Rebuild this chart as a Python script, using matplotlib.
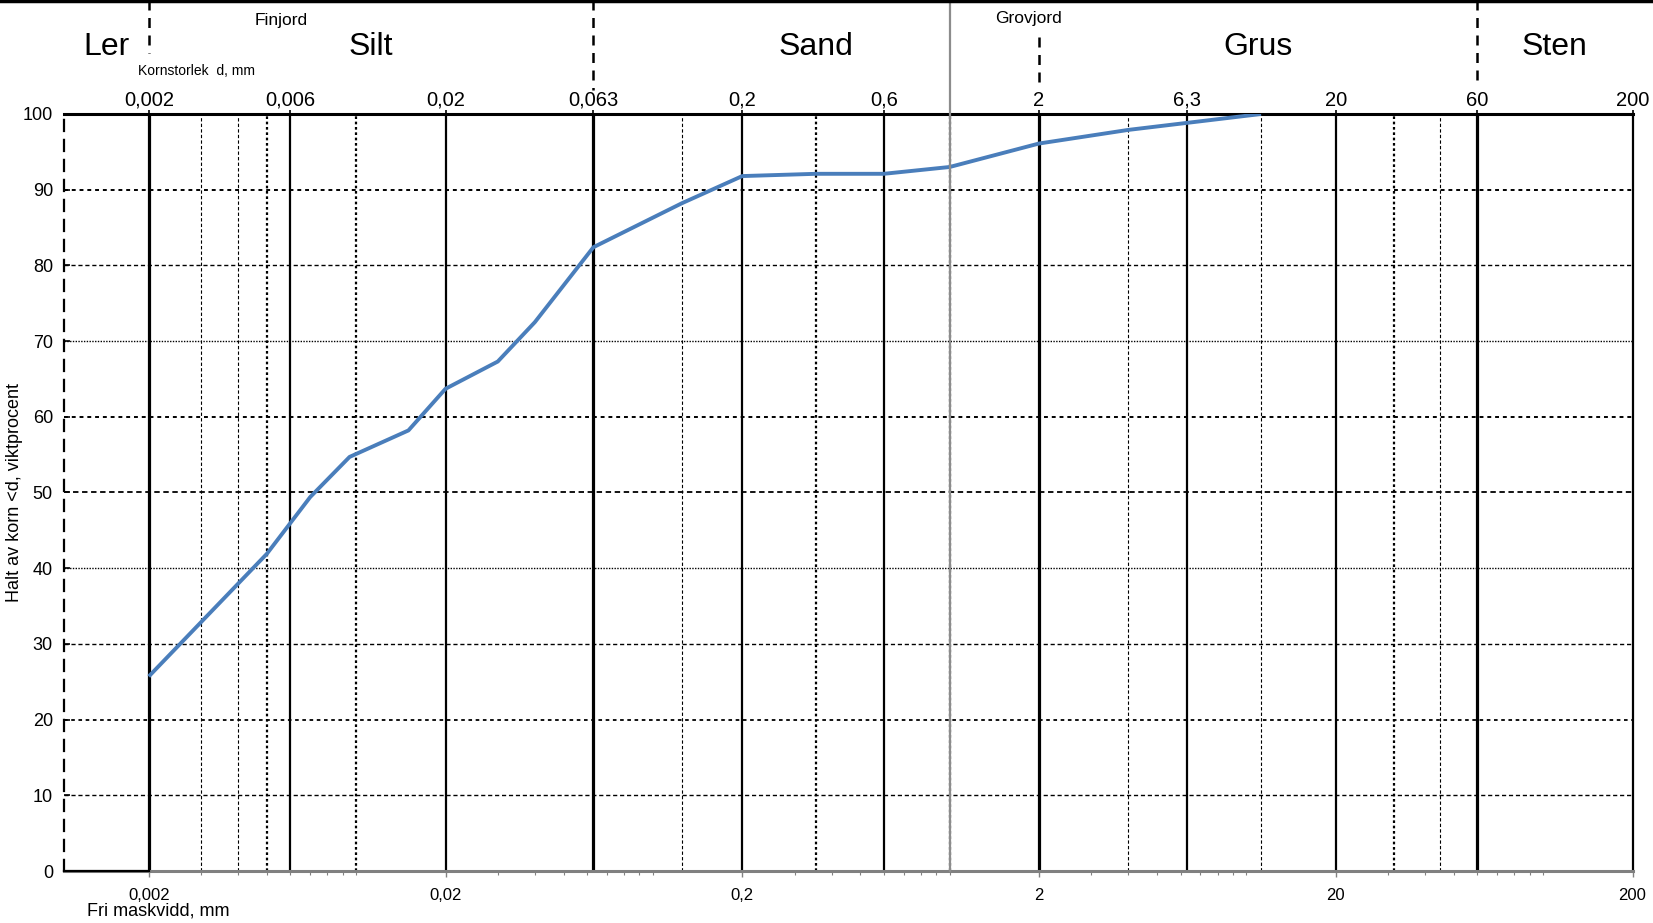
import matplotlib
matplotlib.use("Agg")
import matplotlib.pyplot as plt
import matplotlib.transforms as mtransforms
from matplotlib.ticker import FixedLocator, LogLocator, NullFormatter
import numpy as np

plt.rcParams['font.family'] = ['Liberation Sans', 'DejaVu Sans']

# siktkurva: kornstorlek (mm) och passerande mängd (%)
grain_size = [0.002, 0.005, 0.007, 0.0095, 0.015, 0.02, 0.03, 0.04, 0.063,
              0.125, 0.2, 0.355, 0.6, 1.0, 2.0, 4.0, 11.2]
passing = [25.7, 41.9, 49.4, 54.7, 58.2, 63.7, 67.3, 72.5, 82.4,
           88.2, 91.8, 92.1, 92.1, 93.0, 96.1, 97.9, 100.0]

# fraktionsgränser och namn
fraction_limits = [0.002, 0.063, 2, 60]
fraction_names = ["Ler", "Silt", "Sand", "Grus", "Sten"]

# stödlinjer i diagrammet
solid_sizes = [0.006, 0.02, 0.2, 0.6, 6.3, 20]
dashed_sizes = [0.003, 0.004, 0.125, 4, 11.2, 45]
dotted_sizes = [0.005, 0.01, 0.355, 1.0, 31.5]
y_grid = [10, 20, 30, 40, 50, 60, 70, 80, 90]

top_ticks = [0.002, 0.006, 0.02, 0.063, 0.2, 0.6, 2, 6.3, 20, 60, 200]
top_labels = ["0,002", "0,006", "0,02", "0,063", "0,2", "0,6", "2", "6,3", "20", "60", "200"]
bottom_ticks = [0.002, 0.02, 0.2, 2, 20, 200]
bottom_labels = ["0,002", "0,02", "0,2", "2", "20", "200"]

XMIN, XMAX = 0.001036, 200
W, H = 1653, 923

fig = plt.figure(figsize=(W / 100, H / 100), dpi=100)
ax = fig.add_axes([64 / W, 1 - 871 / H, (1632.5 - 64) / W, (871 - 114) / H])
ax.set_xscale('log')
ax.set_xlim(XMIN, XMAX)
ax.set_ylim(0, 100)

# horisontella stödlinjer
grid_styles = {10: ((0, (3, 2)), 1.0), 20: ((0, (2, 2)), 1.3), 30: ((0, (3, 2)), 1.0),
               40: ((0, (1, 1)), 1.0), 50: ((0, (3, 2)), 1.3), 60: ((0, (2, 2)), 1.4),
               70: ((0, (1, 1)), 1.0), 80: ((0, (3, 2)), 1.0), 90: ((0, (2, 2)), 1.4)}
for yv in y_grid:
    ls, lw = grid_styles[yv]
    ax.axhline(yv, color='black', ls=ls, lw=lw, zorder=1)

# vertikala linjer
for xv in fraction_limits:
    ax.axvline(xv, color='black', lw=2.3, zorder=2)
for xv in solid_sizes:
    ax.axvline(xv, color='black', lw=1.6, zorder=2)
for xv in dashed_sizes:
    ax.axvline(xv, color='black', ls=(0, (3, 2)), lw=0.8, zorder=2)
for xv in dotted_sizes:
    ax.axvline(xv, color='black', ls=(0, (1.2, 1.2)), lw=1.6, zorder=2)

ax.plot(grain_size, passing, color='#4a7ebb', lw=2.8, solid_joinstyle='round',
        solid_capstyle='butt', zorder=5)

# axlar
ax.spines['top'].set_linewidth(2.2)
ax.spines['right'].set_linewidth(1.6)
ax.spines['left'].set_linewidth(1.6)
ax.spines['left'].set_linestyle((0, (5, 4)))
ax.spines['bottom'].set_color('#808080')
ax.spines['bottom'].set_linewidth(2.2)
ax.plot([XMIN, 0.002], [0, 0], color='black', lw=1.6, zorder=6, clip_on=False)

ax.set_yticks(range(0, 101, 10))
ax.tick_params(axis='y', direction='in', length=4, width=1.2, pad=8, labelsize=13)

ax.xaxis.set_major_locator(FixedLocator(bottom_ticks))
ax.set_xticklabels(bottom_labels)
ax.xaxis.set_minor_locator(LogLocator(base=10, subs=np.arange(1, 10)))
ax.xaxis.set_minor_formatter(NullFormatter())
ax.tick_params(axis='x', which='major', direction='out', length=4, width=1.0,
               color='#808080', pad=8, labelsize=12)
ax.tick_params(axis='x', which='minor', direction='out', length=3, width=0.8,
               color='#808080')

top = ax.twiny()
top.set_xscale('log')
top.set_xlim(XMIN, XMAX)
top.xaxis.set_major_locator(FixedLocator(top_ticks))
top.set_xticklabels(top_labels)
top.xaxis.set_minor_locator(FixedLocator([]))
top.tick_params(axis='x', direction='out', length=3, width=1.2, pad=0, labelsize=14.5)
for s in top.spines.values():
    s.set_visible(False)

# rubriker ovanför diagrammet
trans = mtransforms.blended_transform_factory(ax.transData, fig.transFigure)
limits = [XMIN] + fraction_limits + [XMAX]
for name, lo, hi in zip(fraction_names, limits[:-1], limits[1:]):
    ax.text(np.sqrt(lo * hi), 1 - 47 / H, name, transform=trans, fontsize=23,
            ha='center', va='center')
ax.text(0.0056, 1 - 21 / H, "Finjord", transform=trans, fontsize=12.5,
        ha='center', va='center')
ax.text(1.85, 1 - 19 / H, "Grovjord", transform=trans, fontsize=12.5,
        ha='center', va='center')
ax.text(0.0029, 1 - 71 / H, "Kornstorlek  d, mm", transform=trans, fontsize=10,
        ha='center', va='center')

header_dash = (0, (4, 3))
for xv, y0, y1 in [(0.002, 0, 53), (0.063, 0, 90), (2, 37, 88), (60, 0, 86)]:
    ax.plot([xv, xv], [1 - y0 / H, 1 - y1 / H], transform=trans, color='black',
            lw=1.8, ls=header_dash, clip_on=False)

# grå gränslinje genom hela figuren
ax.plot([1.0, 1.0], [1, 1 - 871 / H], transform=trans, color='#8c8c8c', lw=1.6,
        clip_on=False, zorder=7)
fig.add_artist(plt.Line2D([0, 1], [1 - 1 / H, 1 - 1 / H], color='black', lw=2.5))

fig.text(15 / W, 1 - 492 / H, "Halt av korn <d, viktprocent", rotation=90,
         fontsize=13, ha='center', va='center')
fig.text(158 / W, 1 - 911 / H, "Fri maskvidd, mm", fontsize=13, ha='center', va='center')

fig.savefig("out.png", dpi=100)
